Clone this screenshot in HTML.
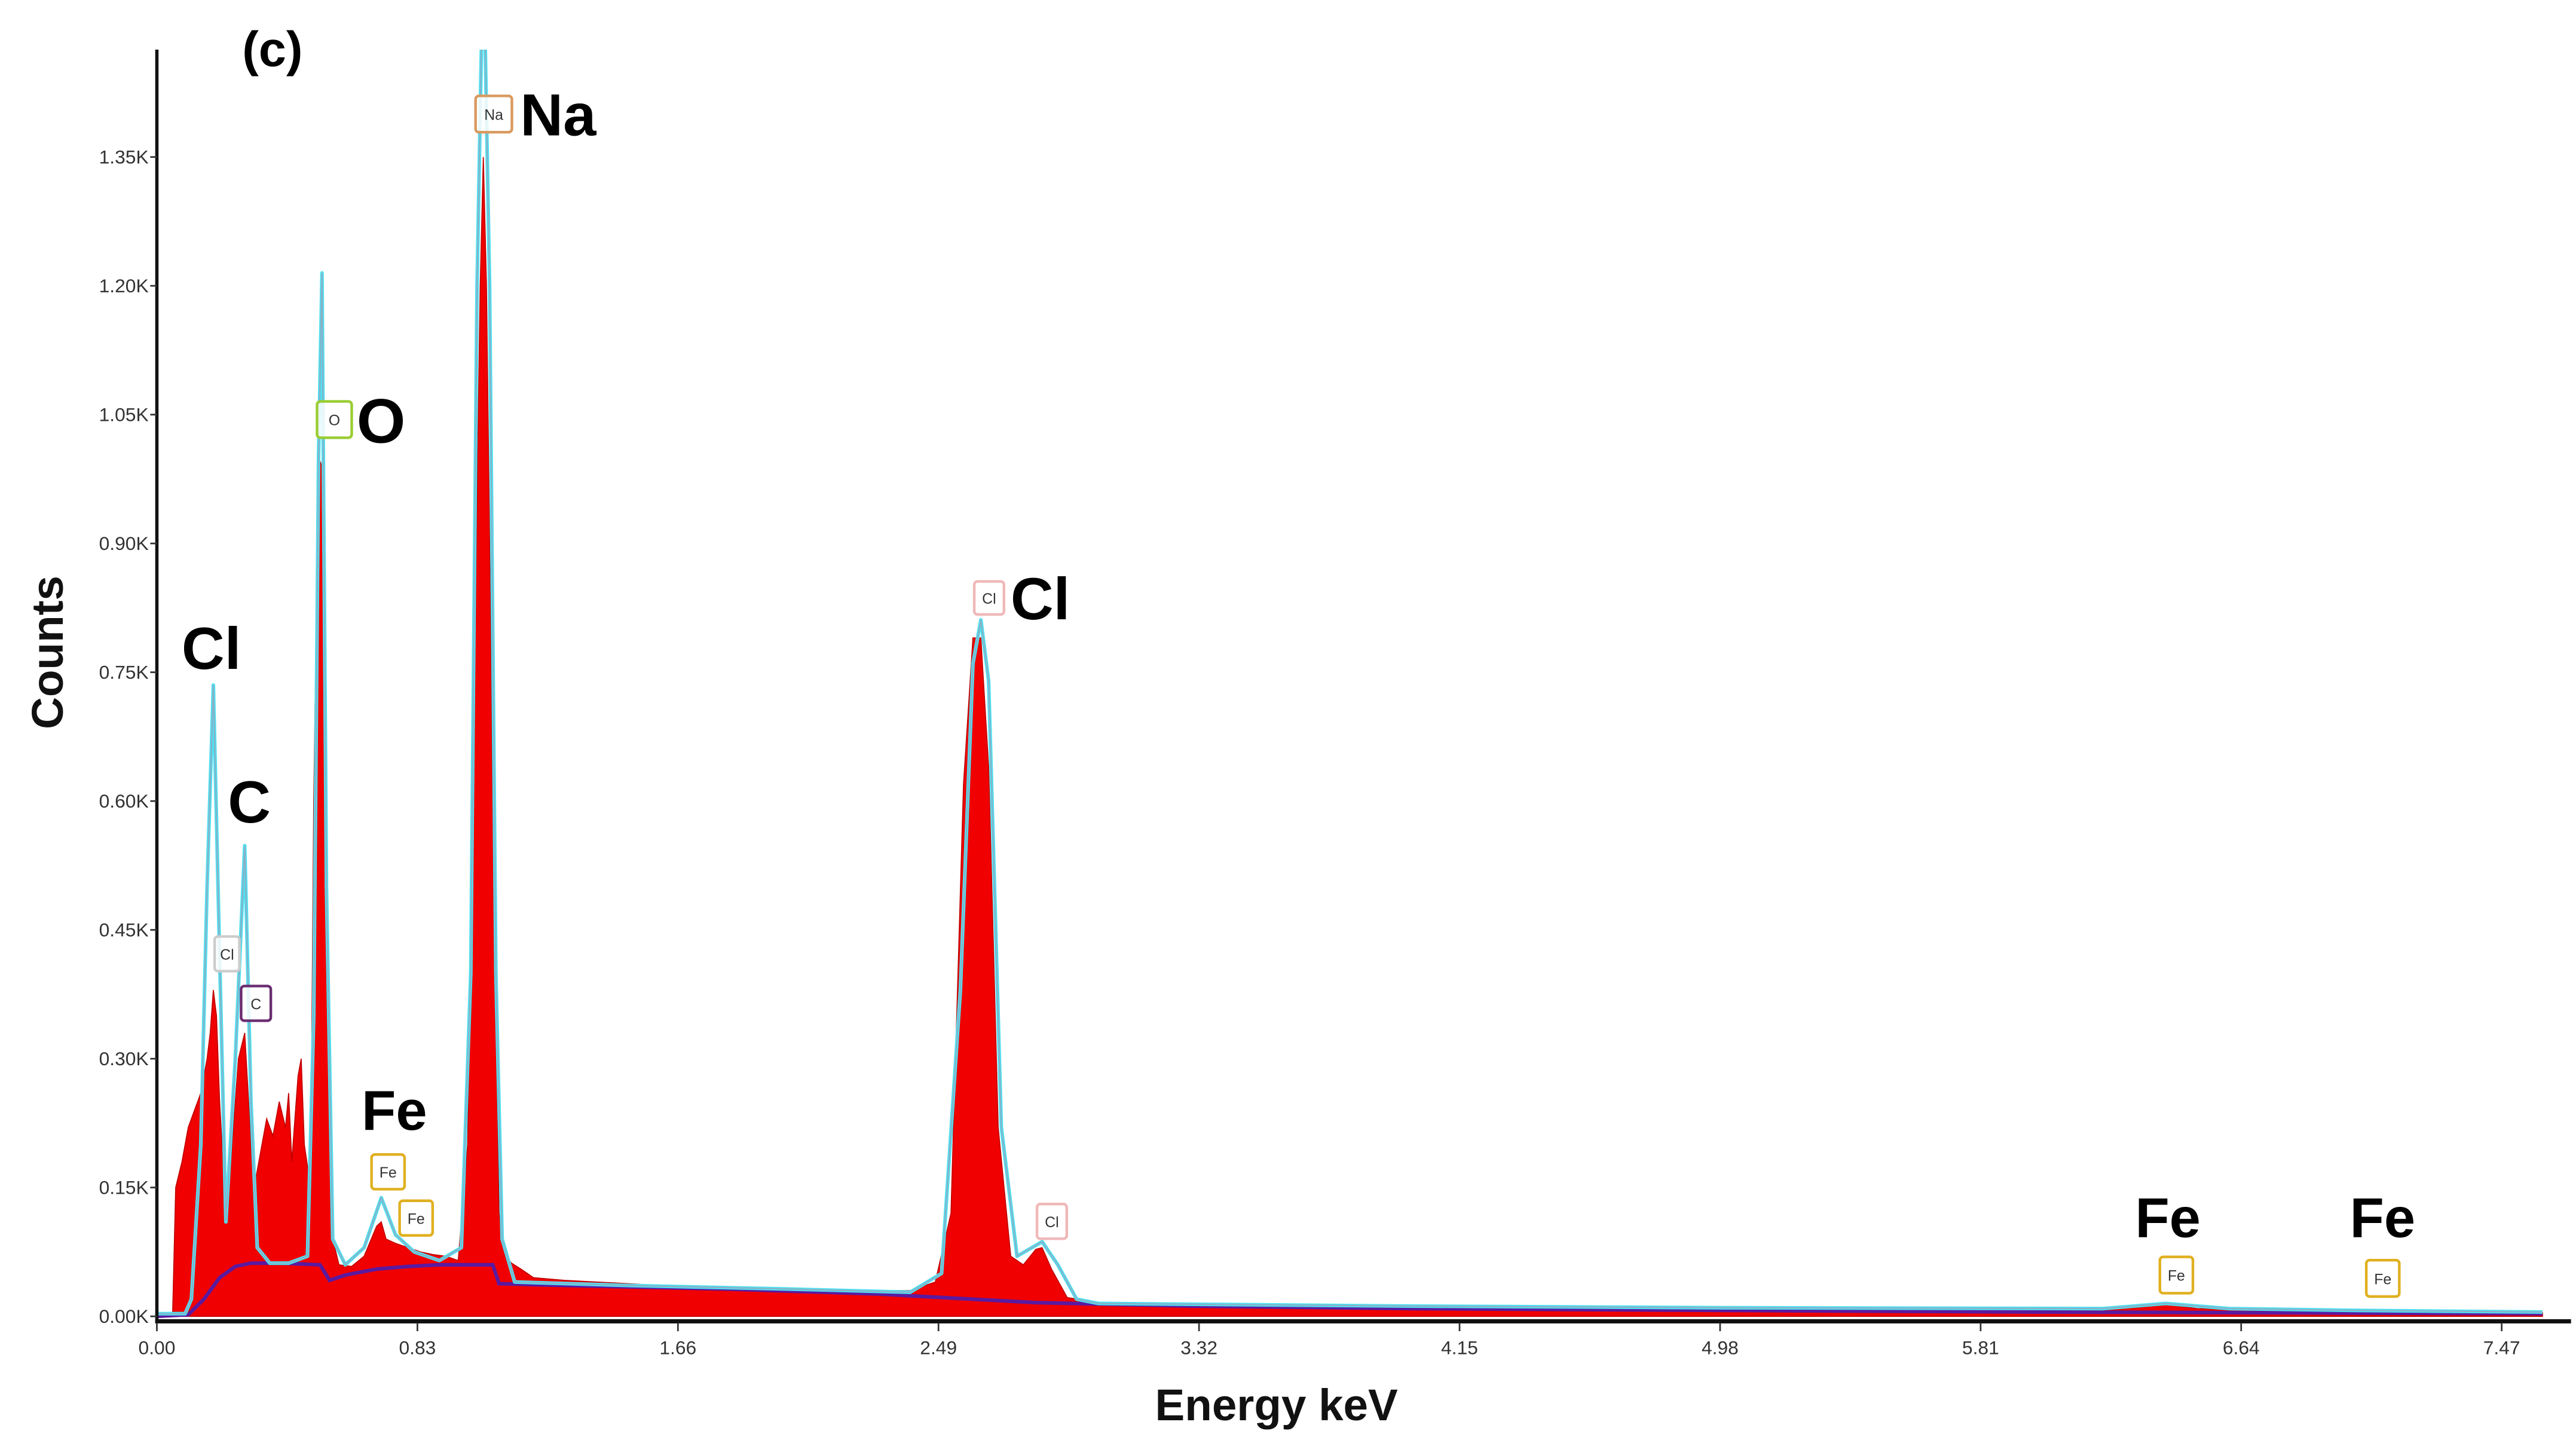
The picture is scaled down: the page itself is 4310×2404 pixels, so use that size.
<!DOCTYPE html>
<html><head><meta charset="utf-8">
<style>
html,body{margin:0;padding:0;background:#fff;}
svg{display:block;}
text{font-family:"Liberation Sans",sans-serif;}
</style></head>
<body>
<svg id="chart" width="4310" height="2404" viewBox="0 0 1560 870" xmlns="http://www.w3.org/2000/svg">
<rect x="0" y="0" width="1560" height="870" fill="#fff"/>
<g id="plot"></g>
</svg>
<script>
const yTicks=[0,150,300,450,600,750,900,1050,1200,1350];
const yTickLabels=["0.00K","0.15K","0.30K","0.45K","0.60K","0.75K","0.90K","1.05K","1.20K","1.35K"];
const xTicks=[0,0.83,1.66,2.49,3.32,4.15,4.98,5.81,6.64,7.47];
const xTickLabels=["0.00","0.83","1.66","2.49","3.32","4.15","4.98","5.81","6.64","7.47"];
const redE=[0,0.05,0.06,0.08,0.1,0.12,0.14,0.16,0.17,0.18,0.19,0.2,0.22,0.24,0.26,0.28,0.3,0.31,0.33,0.35,0.37,0.39,0.41,0.42,0.43,0.45,0.46,0.47,0.49,0.5,0.515,0.526,0.54,0.56,0.58,0.62,0.66,0.7,0.715,0.73,0.76,0.8,0.84,0.88,0.92,0.96,0.99,1.01,1.03,1.04,1.05,1.07,1.09,1.11,1.13,1.16,1.2,1.3,1.4,1.5,1.6,1.8,2.0,2.2,2.4,2.48,2.53,2.57,2.6,2.625,2.65,2.68,2.72,2.76,2.8,2.82,2.85,2.9,3.0,3.3,3.6,4.0,4.5,5.0,5.5,6.0,6.3,6.4,6.5,6.8,7.2,7.6];
const redC=[0,0,150,180,220,240,260,300,330,380,350,250,120,200,300,330,200,150,190,230,210,250,220,260,180,280,300,200,150,600,1000,990,400,90,60,58,70,105,110,90,85,80,75,72,70,65,200,700,1200,1350,1200,600,120,70,62,55,45,42,40,38,36,34,32,30,30,40,120,620,790,790,640,220,70,60,78,80,55,22,16,14,12,11,10,9,8,8,10,14,9,7,5,4];
const cyanE=[0,0.09,0.11,0.14,0.16,0.18,0.2,0.22,0.25,0.28,0.3,0.32,0.36,0.42,0.48,0.5,0.515,0.526,0.54,0.56,0.6,0.66,0.715,0.76,0.82,0.9,0.97,1.0,1.02,1.04,1.06,1.08,1.1,1.14,1.5,2.0,2.4,2.5,2.56,2.6,2.625,2.65,2.69,2.74,2.82,2.87,2.93,3.0,4.0,5.0,6.2,6.4,6.6,7.0,7.6];
const cyanC=[3,3,20,200,500,735,420,110,300,548,250,80,62,62,70,350,1000,1215,500,90,60,80,138,95,75,65,80,400,1200,1600,1200,400,90,40,36,32,28,50,380,760,811,740,220,70,87,60,20,15,12,10,9,15,9,7,5];
const bgE=[0,0.1,0.15,0.2,0.25,0.3,0.4,0.52,0.55,0.6,0.7,0.8,0.9,1.07,1.09,1.3,1.8,2.3,2.8,3.3,4.0,5.0,6.0,7.6];
const bgC=[0,2,20,45,58,62,62,60,42,48,55,58,60,60,38,36,32,26,16,12,9,7,5,3];
const peakLabels=[["Na",315,82,36],["O",216,268,38],["Cl",110,405,36],["C",138,498,36],["Fe",219,684,34],["Cl",612,375,36],["Fe",1293,749,34],["Fe",1423,749,34]];
const boxes=[["Na",288,58,22,22,"#d99a5e"],["O",192,243,21,22,"#9acd32"],["Cl",130,567,15,21,"#ccc"],["C",146,597,18,21,"#6a2c70"],["Fe",225,699,20,21,"#e0b020"],["Fe",242,727,20,21,"#e0b020"],["Cl",590,352,18,20,"#f0b8b8"],["Cl",628,729,18,21,"#f0b8b8"],["Fe",1308,761,20,22,"#e0b020"],["Fe",1433,763,20,22,"#e0b020"]];

const NS="http://www.w3.org/2000/svg";
const g=document.getElementById('plot');
const X0=95,X1=1515,Y0=797,Y1=95;
function xs(e){return X0+(e-0)/(7.47)*(X1-X0);}
function ys(c){return Y0-(c/1350)*(Y0-Y1);}
function mk(t,a){const el=document.createElementNS(NS,t);for(const k in a)el.setAttribute(k,a[k]);g.appendChild(el);return el;}

const defs=document.createElementNS(NS,'defs');
defs.innerHTML='<clipPath id="clp"><rect x="95" y="30" width="1465" height="770"/></clipPath>';
g.appendChild(defs);

let d='M'+xs(redE[0])+','+ys(0);
for(let i=0;i<redE.length;i++)d+=' L'+xs(redE[i]).toFixed(1)+','+ys(redC[i]).toFixed(1);
d+=' L'+xs(redE[redE.length-1])+','+ys(0)+' Z';
let el=mk('path',{d:d,fill:'#f00000',stroke:'#c00000','stroke-width':0.6,'clip-path':'url(#clp)'});



let pb='';for(let i=0;i<bgE.length;i++)pb+=(i?' L':'M')+xs(bgE[i]).toFixed(1)+','+ys(bgC[i]).toFixed(1);
el=mk('path',{d:pb,fill:'none',stroke:'#5a1aa0','stroke-width':2.2});



let pc='';for(let i=0;i<cyanE.length;i++)pc+=(i?' L':'M')+xs(cyanE[i]).toFixed(1)+','+ys(cyanC[i]).toFixed(1);
el=mk('path',{d:pc,fill:'none',stroke:'#4fe0f0','stroke-width':2.2,'stroke-linejoin':'round','clip-path':'url(#clp)'});


el=mk('path',{d:pc,fill:'none',stroke:'#8ab0c8','stroke-width':0.8,'clip-path':'url(#clp)'});



el=mk('line',{x1:95,y1:30,x2:95,y2:801,stroke:'#111','stroke-width':2});


el=mk('line',{x1:94,y1:800,x2:1557,y2:800,stroke:'#111','stroke-width':2.6});



yTicks.forEach((v,i)=>{
  const y=ys(v);
  let t=mk('line',{x1:91,y1:y,x2:95,y2:y,stroke:'#333','stroke-width':1});
  
  
  t=mk('text',{x:90,y:y+4,'text-anchor':'end','font-size':11.5,fill:'#333'});
  t.textContent=yTickLabels[i];
  
  
});
xTicks.forEach((v,i)=>{
  const x=xs(v);
  let t=mk('line',{x1:x,y1:801,x2:x,y2:806,stroke:'#333','stroke-width':1});
  
  
  t=mk('text',{x:x,y:820,'text-anchor':'middle','font-size':11.5,fill:'#333'});
  t.textContent=xTickLabels[i];
  
  
});

boxes.forEach(b=>{
  let r=mk('rect',{x:b[1],y:b[2],width:b[3],height:b[4],fill:'#fff','fill-opacity':0.85,stroke:b[5],'stroke-width':1.6,rx:2});
  
  
  let t=mk('text',{x:b[1]+b[3]/2,y:b[2]+b[4]/2+3.5,'text-anchor':'middle','font-size':9,fill:'#333'});
  t.textContent=b[0];
  
  
});
peakLabels.forEach(p=>{
  let t=mk('text',{x:p[1],y:p[2],'font-size':p[3],'font-weight':'bold',fill:'#000'});
  t.textContent=p[0];
  
  
});

el=mk('text',{x:38,y:395,'text-anchor':'middle','font-size':27,'font-weight':'bold',fill:'#111',transform:'rotate(-90 38 395)'});
el.textContent='Counts';


el=mk('text',{x:773,y:860,'text-anchor':'middle','font-size':27,'font-weight':'bold',fill:'#111'});
el.textContent='Energy keV';


el=mk('text',{x:165,y:40,'text-anchor':'middle','font-size':30,'font-weight':'bold',fill:'#000','font-family':'Liberation Serif, serif'});
el.textContent='(c)';


</script>
</body></html>
